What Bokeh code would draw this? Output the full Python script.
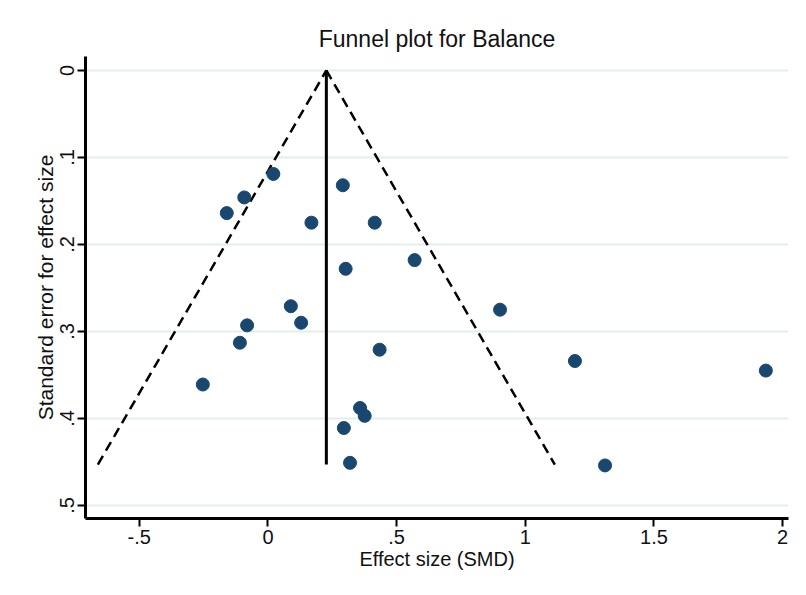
from bokeh.plotting import figure
from bokeh.models import Range1d, FixedTicker, ColumnDataSource
from bokeh.embed import file_html
from bokeh.resources import INLINE

# Study effect sizes (SMD) and standard errors
effect = [0.021, -0.092, -0.160, 0.169, 0.291, 0.415, 0.570, 0.302, 0.089, 0.129,
          -0.081, -0.109, 0.434, -0.253, 0.358, 0.376, 0.295, 0.319, 0.902, 1.193,
          1.935, 1.310]
se = [0.119, 0.146, 0.164, 0.175, 0.132, 0.175, 0.218, 0.228, 0.271, 0.290,
      0.293, 0.313, 0.321, 0.361, 0.388, 0.397, 0.411, 0.451, 0.275, 0.334,
      0.345, 0.454]
pooled = 0.227
se_max = 0.453

x_ticks = [-0.5, 0, 0.5, 1, 1.5, 2]
x_tick_labels = ["-.5", "0", ".5", "1", "1.5", "2"]
y_ticks = [0, 0.1, 0.2, 0.3, 0.4, 0.5]
y_tick_labels = ["0", ".1", ".2", ".3", ".4", ".5"]

FONT = "Liberation Sans"

p = figure(width=790, height=579, output_backend="svg", toolbar_location=None,
           x_range=Range1d(-0.709, 2.023), y_range=Range1d(0.515, -0.016),
           min_border_left=85, min_border_right=2, min_border_top=56, min_border_bottom=61,
           title="Funnel plot for Balance")
p.title.align = "center"
p.title.text_font = FONT
p.title.text_font_size = "23px"
p.title.text_font_style = "normal"
p.title.text_color = "#111111"
p.title.offset = 0
p.outline_line_color = None
p.background_fill_color = "white"
p.border_fill_color = "white"

p.xgrid.grid_line_color = None
p.ygrid.grid_line_color = "#e4eded"
p.ygrid.grid_line_width = 2
p.ygrid.ticker = FixedTicker(ticks=y_ticks)

p.xaxis.ticker = FixedTicker(ticks=x_ticks)
p.xaxis.major_label_overrides = {t: l for t, l in zip(x_ticks, x_tick_labels)}
p.yaxis.ticker = FixedTicker(ticks=y_ticks)
p.yaxis.major_label_overrides = {t: l for t, l in zip(y_ticks, y_tick_labels)}
p.yaxis.major_label_orientation = "vertical"

p.xaxis.axis_label = "Effect size (SMD)"
p.yaxis.axis_label = "Standard error for effect size"
for ax in (p.xaxis, p.yaxis):
    ax.axis_line_width = 3
    ax.axis_line_color = "black"
    ax.major_tick_line_width = 2
    ax.major_tick_line_color = "black"
    ax.major_tick_out = 8
    ax.major_tick_in = 0
    ax.minor_tick_line_color = None
    ax.major_label_text_font = FONT
    ax.major_label_text_font_size = "20px"
    ax.major_label_text_color = "#111111"
    ax.axis_label_text_font = FONT
    ax.axis_label_text_font_style = "normal"
    ax.axis_label_text_color = "#111111"
    ax.major_label_standoff = 3
    ax.axis_label_standoff = 1
p.xaxis.axis_label_text_font_size = "20px"
p.yaxis.axis_label_text_font_size = "21px"

# Funnel (pseudo 95% CI) lines
lo = pooled - 1.96 * se_max
hi = pooled + 1.96 * se_max
p.line([lo, pooled], [se_max, 0], line_color="black", line_width=2.5, line_dash="10 6")
p.line([pooled, hi], [0, se_max], line_color="black", line_width=2.5, line_dash="10 6")
p.line([pooled, pooled], [0, se_max], line_color="black", line_width=3)

src = ColumnDataSource(dict(x=effect, y=se))
p.scatter("x", "y", source=src, size=13, fill_color="#1a476f", line_color="#1a476f")

open("out.html", "w").write(file_html(p, INLINE))
